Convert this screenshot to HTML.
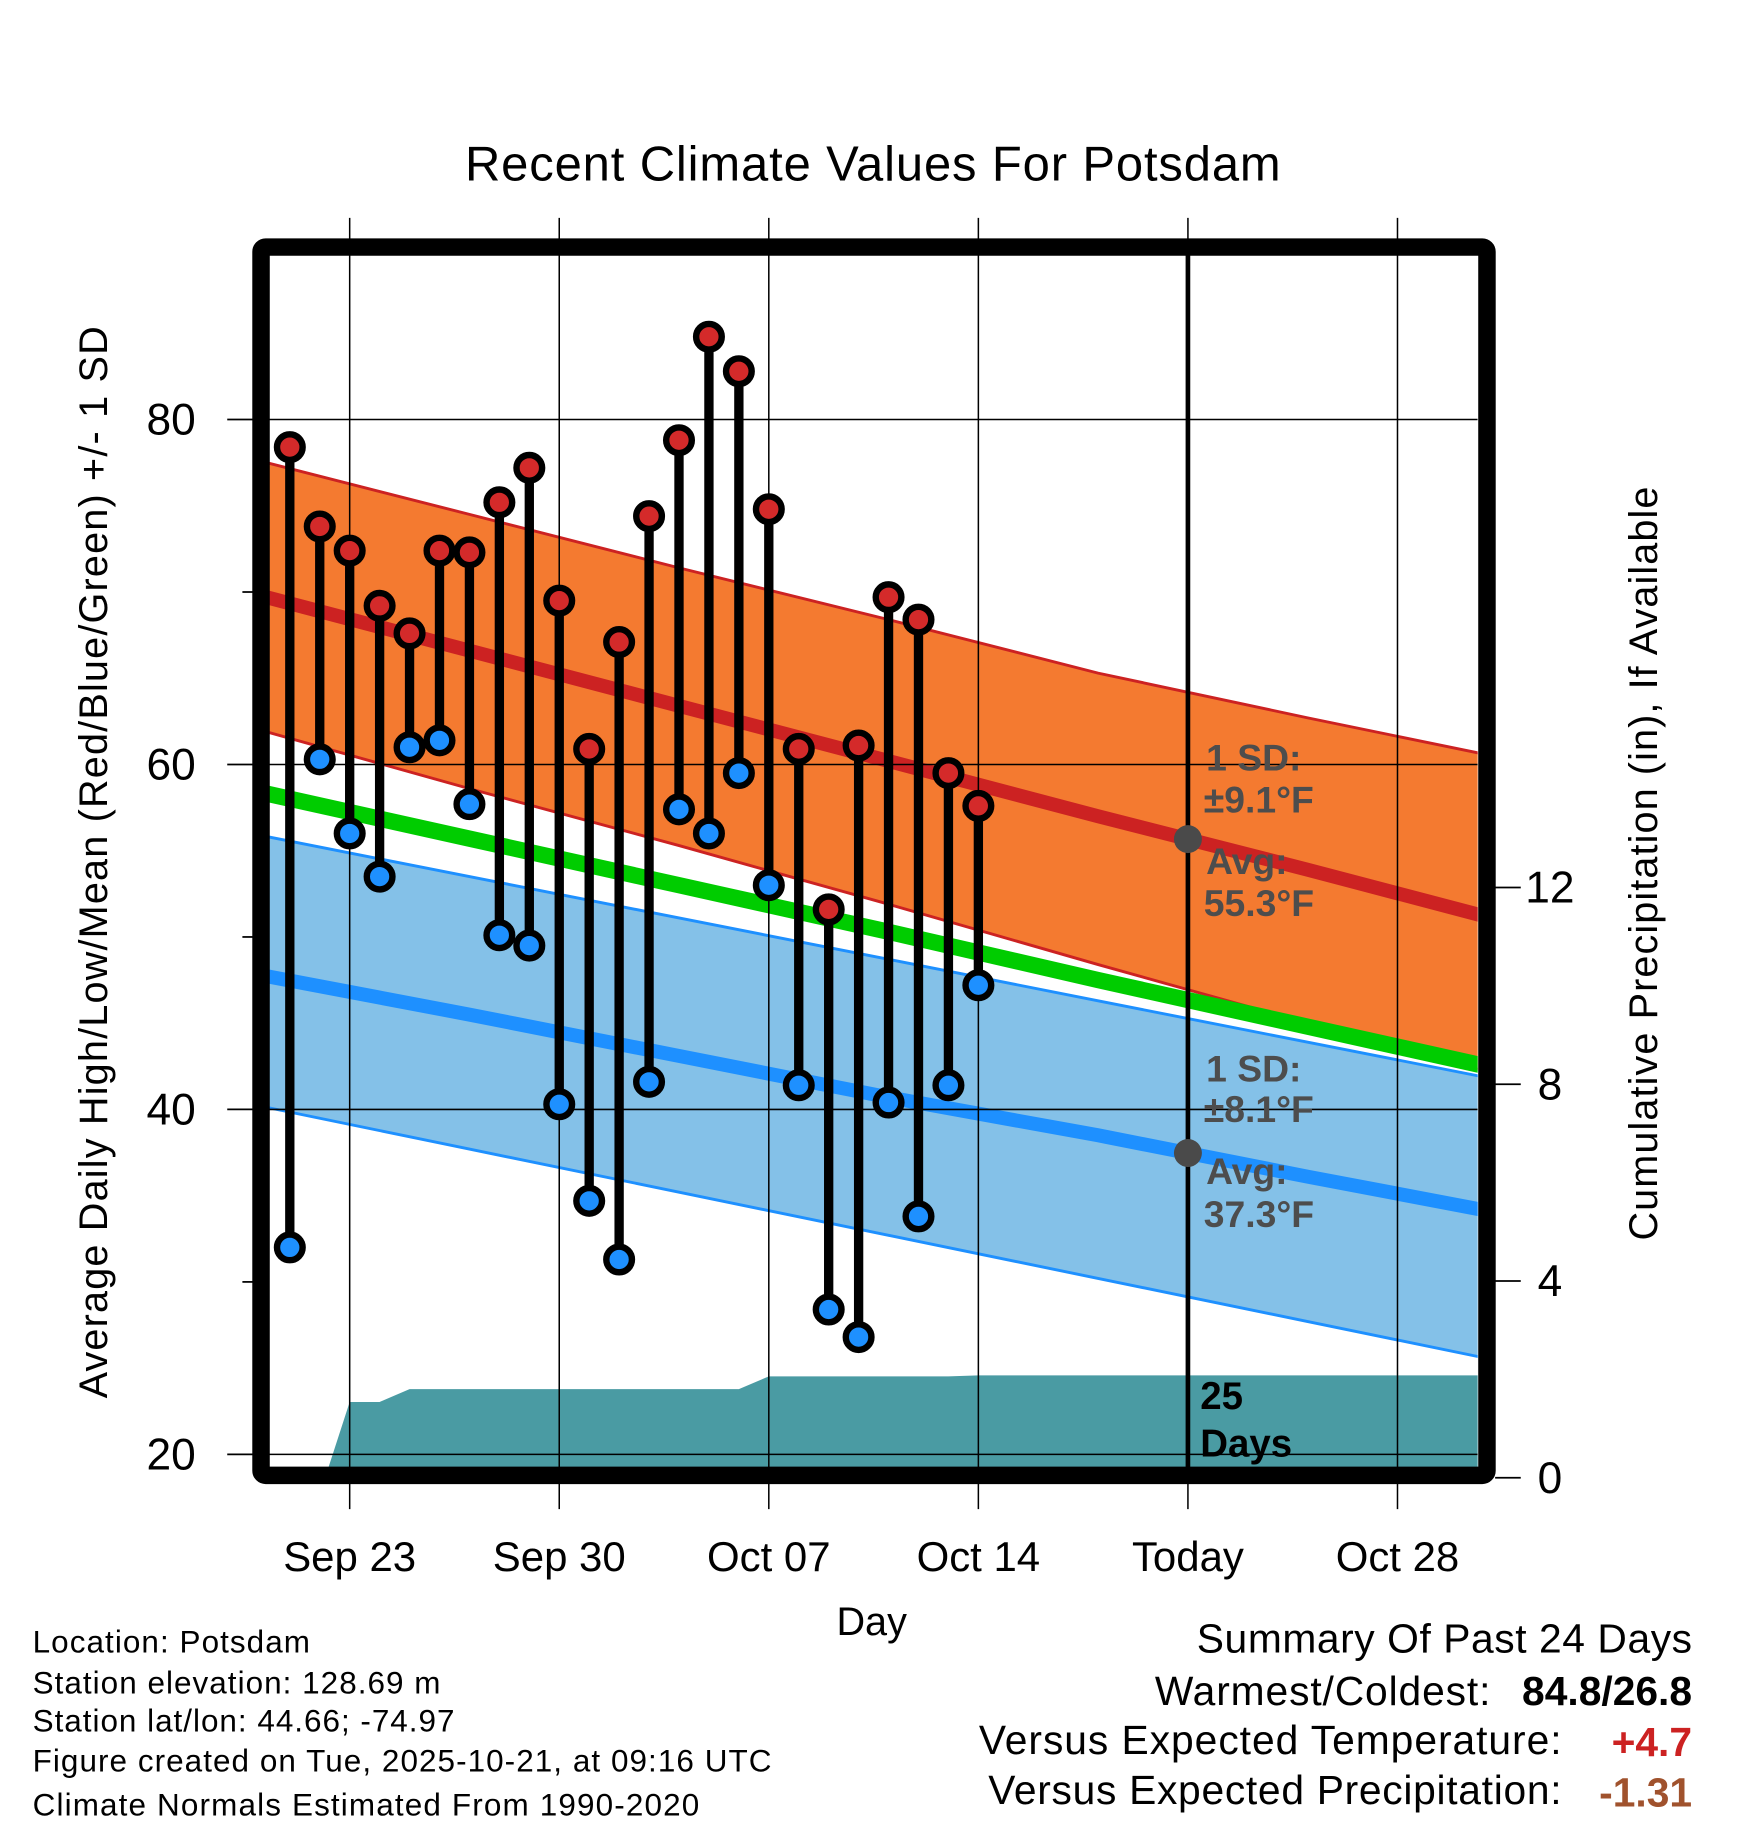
<!DOCTYPE html>
<html><head><meta charset="utf-8"><style>
html,body{margin:0;padding:0;background:#fff}
svg{display:block;font-family:"Liberation Sans",Arial,sans-serif}
</style></head><body>
<svg id="chart" width="1748" height="1828" viewBox="0 0 1500 1568.6" preserveAspectRatio="none" xmlns="http://www.w3.org/2000/svg">
<g id="plot"></g>
<g id="static">
<text x="749" y="155" font-size="42" text-anchor="middle" textLength="700">Recent Climate Values For Potsdam</text>
<text transform="translate(92,740) rotate(-90)" font-size="34" text-anchor="middle" textLength="920">Average Daily High/Low/Mean (Red/Blue/Green) +/- 1 SD</text>
<text transform="translate(1422,741) rotate(-90)" font-size="34" text-anchor="middle" textLength="647">Cumulative Precipitation (in), If Available</text>
<text x="748" y="1403" font-size="34" text-anchor="middle">Day</text>
<g font-size="27">
<text x="28" y="1418" textLength="238">Location: Potsdam</text>
<text x="28" y="1453" textLength="350">Station elevation: 128.69 m</text>
<text x="28" y="1486" textLength="362">Station lat/lon: 44.66; -74.97</text>
<text x="28" y="1520" textLength="634">Figure created on Tue, 2025-10-21, at 09:16 UTC</text>
<text x="28" y="1558" textLength="572">Climate Normals Estimated From 1990-2020</text>
</g>
<g font-size="35">
<text x="1027" y="1418" textLength="425">Summary Of Past 24 Days</text>
<text x="991" y="1463" textLength="288">Warmest/Coldest:</text>
<text x="1452" y="1463" text-anchor="end" font-weight="bold">84.8/26.8</text>
<text x="840" y="1505" textLength="500">Versus Expected Temperature:</text>
<text x="1452" y="1507" text-anchor="end" font-weight="bold" fill="#cc2222">+4.7</text>
<text x="848" y="1548" textLength="492">Versus Expected Precipitation:</text>
<text x="1452" y="1550" text-anchor="end" font-weight="bold" fill="#a0522d">-1.31</text>
</g>
</g>
</svg>
<script>
const days = ["Sep 21","Sep 22","Sep 23","Sep 24","Sep 25","Sep 26","Sep 27","Sep 28","Sep 29","Sep 30","Oct 01","Oct 02","Oct 03","Oct 04","Oct 05","Oct 06","Oct 07","Oct 08","Oct 09","Oct 10","Oct 11","Oct 12","Oct 13","Oct 14"];
const highs = [78.4,73.8,72.4,69.2,67.6,72.4,72.3,75.2,77.2,69.5,60.9,67.1,74.4,78.8,84.8,82.8,74.8,60.9,51.6,61.1,69.7,68.4,59.5,57.6];
const lows = [32.0,60.3,56.0,53.5,61.0,61.4,57.7,50.1,49.5,40.3,34.7,31.3,41.6,57.4,56.0,59.5,53.0,41.4,28.4,26.8,40.4,33.8,41.4,47.2];
const precipCum = [0,0,1.54,1.54,1.80,1.80,1.80,1.80,1.80,1.80,1.80,1.80,1.80,1.80,1.80,1.80,2.06,2.06,2.06,2.06,2.06,2.06,2.06,2.08];
const normDays = [0,7,14,21,28,35,42];
const highUpper = [77.6,74.5,71.4,68.4,65.3,62.7,60.2];
const highAvg = [69.8,66.6,63.4,60.2,57.0,53.9,50.7];
const highLower = [62.0,58.6,55.3,51.9,48.4,45.0,41.7];
const meanAvg = [58.4,55.7,53.0,50.3,47.5,44.8,42.1];
const lowUpper = [55.9,53.5,51.1,48.7,46.3,43.9,41.5];
const lowAvg = [47.8,45.5,43.1,40.7,38.5,36.1,33.8];
const lowLower = [40.2,37.7,35.2,32.7,30.2,27.7,25.2];
const xTickLabels = ["Sep 23","Sep 30","Oct 07","Oct 14","Today","Oct 28"];
const xTickDays = [3,10,17,24,31,38];
const yTicks = [20,40,60,80];
const y2Ticks = [0,4,8,12];

const NS="http://www.w3.org/2000/svg";
const L=231,R=1268,T=219,B=1259;
const xs=d=>223+d*25.69;
const ys=v=>360+(80-v)*14.8;
const yp=p=>1268-p*42.2;
const plot=document.getElementById('plot');
function mk(tag,attrs,parent){const e=document.createElementNS(NS,tag);for(const k in attrs)e.setAttribute(k,attrs[k]);(parent||plot).appendChild(e);return e;}
const clip=mk('clipPath',{id:'cp'});mk('rect',{x:L,y:T,width:R-L,height:B-T},clip);
const g=mk('g',{'clip-path':'url(#cp)'});


function pts(arr,xd){return arr.map((v,i)=>xs(xd[i]).toFixed(1)+','+ys(v).toFixed(1));}
function band(up,lo,fill,stroke,name){
  const p=mk('polygon',{points:pts(up,normDays).concat(pts(lo,normDays).reverse()).join(' '),fill:fill},g);
  
  
  [up,lo].forEach(a=>{const l=mk('polyline',{points:pts(a,normDays).join(' '),fill:'none',stroke:stroke,'stroke-width':2.5},g);
  
  });
}
band(lowUpper,lowLower,'#84c1e8','#1e90ff','low-sd-band');
band(highUpper,highLower,'#f47a30','#cc2222','high-sd-band');
function line(a,color,w,name){const l=mk('polyline',{points:pts(a,normDays).join(' '),fill:'none',stroke:color,'stroke-width':w},g);

}
line(meanAvg,'#00cc00',14,'mean-normal-line');
line(highAvg,'#cc2222',12,'high-normal-line');
line(lowAvg,'#1e90ff',12,'low-normal-line');
let pp=[xs(2.18)+','+yp(0)];
precipCum.forEach((p,i)=>{if(i>=2)pp.push(xs(i+1)+','+yp(p).toFixed(1));});
const last=precipCum[precipCum.length-1];
pp.push(R+5+','+yp(last).toFixed(1));pp.push(R+5+','+(B+5));pp.push(xs(2.18)+','+(B+5));
const pa=mk('polygon',{points:pp.join(' '),fill:'#4a9ba3'},g);


yTicks.forEach(v=>{const l=mk('line',{x1:L,x2:R,y1:ys(v),y2:ys(v),stroke:'#000','stroke-width':1.3},g);

});
xTickDays.forEach(d=>{const l=mk('line',{x1:xs(d),x2:xs(d),y1:187,y2:1295,stroke:'#000','stroke-width':1.3});

});
const today=mk('line',{x1:xs(31),x2:xs(31),y1:T,y2:B,stroke:'#000','stroke-width':4});


highs.forEach((h,i)=>{const x=xs(i+1);
  const s=mk('line',{x1:x,x2:x,y1:ys(h),y2:ys(lows[i]),stroke:'#000','stroke-width':8});
  
  
});
highs.forEach((h,i)=>{const x=xs(i+1);
  const a=mk('circle',{cx:x,cy:ys(h),r:11,fill:'#d42a2a',stroke:'#000','stroke-width':5.5});
  
  
  const b=mk('circle',{cx:x,cy:ys(lows[i]),r:11,fill:'#1e90ff',stroke:'#000','stroke-width':5.5});
  
  
});
const tx=xs(31);
function interp(a,d){for(let i=0;i<normDays.length-1;i++){if(d<=normDays[i+1]){const t=(d-normDays[i])/(normDays[i+1]-normDays[i]);return a[i]+t*(a[i+1]-a[i]);}}return a[a.length-1];}
[[highAvg,'today-high-marker'],[lowAvg,'today-low-marker']].forEach(([a,n])=>{const c=mk('circle',{cx:tx,cy:ys(interp(a,31)),r:12,fill:'#4a4a4a'});

});
function txt(s,x,y,attrs,name){const t=mk('text',Object.assign({x:x,y:y},attrs));t.textContent=s;

return t;}
const an={'font-size':32,'font-weight':'bold',fill:'#4d4d4d'};
txt('1 SD:',1035,661,an,'high-sd-label');txt('±9.1°F',1033,697,an,'high-sd-value');
txt('Avg:',1035,750,an,'high-avg-label');txt('55.3°F',1033,786,an,'high-avg-value');
txt('1 SD:',1035,928,an,'low-sd-label');txt('±8.1°F',1033,963,an,'low-sd-value');
txt('Avg:',1035,1016,an,'low-avg-label');txt('37.3°F',1033,1053,an,'low-avg-value');
const dn={'font-size':33,'font-weight':'bold',fill:'#000'};
txt('25',1030,1209,dn,'days-count');txt('Days',1030,1250,dn,'days-label');
const fr=mk('rect',{x:224,y:212,width:1052,height:1054,fill:'none',stroke:'#000','stroke-width':15,rx:4});


yTicks.forEach(v=>{const l=mk('line',{x1:195,x2:217,y1:ys(v),y2:ys(v),stroke:'#000','stroke-width':1.5});


txt(String(v),168,ys(v)+13,{'font-size':38,'text-anchor':'end'},'y-tick-label');});
[30,50,70].forEach(v=>{const l=mk('line',{x1:208,x2:217,y1:ys(v),y2:ys(v),stroke:'#000','stroke-width':1.5});

});
y2Ticks.forEach(p=>{const l=mk('line',{x1:1283,x2:1305,y1:yp(p),y2:yp(p),stroke:'#000','stroke-width':1.5});


txt(String(p),1330,yp(p)+13,{'font-size':38,'text-anchor':'middle'},'y2-tick-label');});
xTickLabels.forEach((s,i)=>{txt(s,xs(xTickDays[i]),1348,{'font-size':36,'text-anchor':'middle'},'x-tick-label');});
</script>
</body></html>
